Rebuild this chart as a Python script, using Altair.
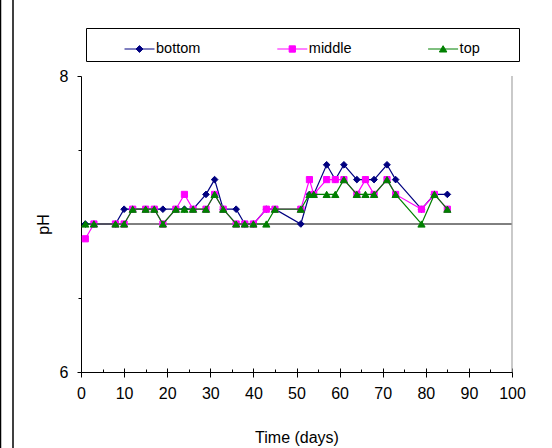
import altair as alt
import pandas as pd

# ---- data ----
days = [1, 3, 8, 10, 12, 15, 17, 19, 22, 24, 26, 29, 31, 33, 36, 38, 40, 43, 45,
        51, 53, 54, 57, 59, 61, 64, 66, 68, 71, 73, 79, 82, 85]
bottom = [7.0, 7.0, 7.0, 7.1, 7.1, 7.1, 7.1, 7.1, 7.1, 7.1, 7.1, 7.2, 7.3, 7.1, 7.1, 7.0, 7.0, 7.1, 7.1,
          7.0, 7.2, 7.2, 7.4, 7.3, 7.4, 7.3, 7.3, 7.3, 7.4, 7.3, 7.1, 7.2, 7.2]
middle = [6.9, 7.0, 7.0, 7.0, 7.1, 7.1, 7.1, 7.0, 7.1, 7.2, 7.1, 7.1, 7.2, 7.1, 7.0, 7.0, 7.0, 7.1, 7.1,
          7.1, 7.3, 7.2, 7.3, 7.3, 7.3, 7.2, 7.3, 7.2, 7.3, 7.2, 7.1, 7.2, 7.1]
top = [7.0, 7.0, 7.0, 7.0, 7.1, 7.1, 7.1, 7.0, 7.1, 7.1, 7.1, 7.1, 7.2, 7.1, 7.0, 7.0, 7.0, 7.0, 7.1,
       7.1, 7.2, 7.2, 7.2, 7.2, 7.3, 7.2, 7.2, 7.2, 7.3, 7.2, 7.0, 7.2, 7.1]

series_names = ["bottom", "middle", "top"]
series_values = [bottom, middle, top]
series_colors = ["#000080", "#FF00FF", "#008000"]
series_shapes = ["diamond", "square", "triangle-up"]
series_sizes = [44, 38, 52]
legend_paths = [
    "M-1,0H1M-0.23,0L0,-0.23L0.23,0L0,0.23Z",
    "M-1,0H1M-0.21,-0.21H0.21V0.21H-0.21Z",
    "M-1,0H1M0,-0.22L0.25,0.2L-0.25,0.2Z",
]

x_major = [0, 10, 20, 30, 40, 50, 60, 70, 80, 90, 100]
x_minor = [5, 15, 25, 35, 45, 55, 65, 75, 85, 95]
y_major = [6, 7, 8]
y_minor = [6.5, 7.5]
ref_y = [7]
border_x = [100]

FONT = "Liberation Sans"

rows = []
for name, vals in zip(series_names, series_values):
    for d, v in zip(days, vals):
        rows.append({"day": d, "pH": v, "series": name})
df = pd.DataFrame(rows)

xscale = alt.Scale(domain=[0, 100], nice=False, zero=False)
yscale = alt.Scale(domain=[6, 8], nice=False, zero=False)

ref = alt.Chart(pd.DataFrame({"y": ref_y})).mark_rule(color="black", strokeWidth=1).encode(
    y=alt.Y("y:Q", scale=yscale, axis=None)
)
border = alt.Chart(pd.DataFrame({"x": border_x})).mark_rule(color="#a6a6a6", strokeWidth=1.2).encode(
    x=alt.X("x:Q", scale=xscale, axis=None)
)
# outer frame lines of the chart area (decoration)
frame1 = alt.Chart(pd.DataFrame({"a": [0]})).mark_rule(color="black", strokeWidth=1.5).encode(
    x=alt.value(-68), y=alt.value(-80), y2=alt.value(380)
)
frame2 = alt.Chart(pd.DataFrame({"a": [0]})).mark_rule(color="black", strokeWidth=1.5).encode(
    x=alt.value(-80.5), y=alt.value(-80), y2=alt.value(380)
)

axis_main_x = alt.Axis(orient="bottom", values=x_major, tickSize=5, labelPadding=8, labelFontSize=16,
                       labelFont=FONT, labelColor="black", title="Time (days)", titleFont=FONT,
                       titleFontSize=16, titleFontWeight="normal", titleColor="black",
                       titleBaseline="alphabetic", titleX=215.5, titleY=70, domainColor="black",
                       tickColor="black", grid=False, labelFlush=False, labelOverlap=False, format="d")
axis_cross_x = alt.Axis(orient="bottom", values=x_major, tickSize=4, offset=-4, labels=False,
                        domain=False, title=None, tickColor="black", grid=False)
axis_minor_x = alt.Axis(orient="bottom", values=x_minor, tickSize=3, offset=-3, labels=False,
                        domain=False, title=None, tickColor="black", grid=False)
axis_main_y = alt.Axis(orient="left", values=y_major, tickSize=4, labelPadding=9, labelFontSize=16,
                       labelFont=FONT, labelColor="black", title="pH", titleFont=FONT, titleFontSize=16,
                       titleFontWeight="normal", titleColor="black", titleBaseline="alphabetic",
                       titleX=-33, titleY=148, titleAngle=270, domainColor="black", tickColor="black",
                       grid=False, labelFlush=False, labelOverlap=False, format="d")
axis_minor_y = alt.Axis(orient="left", values=y_minor, tickSize=3, labels=False, domain=False,
                        title=None, tickColor="black", grid=False)

x_axes = [axis_main_x, axis_cross_x, axis_minor_x, None, None, None]
y_axes = [axis_main_y, axis_minor_y, None, None, None, None]

layers = [frame1, frame2, ref, border]
k = 0
for name, color, shape, size in zip(series_names, series_colors, series_shapes, series_sizes):
    sub = alt.Chart(df).transform_filter(alt.datum.series == name)
    line = sub.mark_line(color=color, strokeWidth=1.2).encode(
        x=alt.X("day:Q", scale=xscale, axis=x_axes[k]),
        y=alt.Y("pH:Q", scale=yscale, axis=y_axes[k]),
    )
    k += 1
    pts = sub.mark_point(shape=shape, size=size, filled=True, fill=color, stroke=color,
                         strokeWidth=1, opacity=1).encode(
        x=alt.X("day:Q", scale=xscale, axis=x_axes[k]),
        y=alt.Y("pH:Q", scale=yscale, axis=y_axes[k]),
    )
    k += 1
    layers += [line, pts]

PAD = "\u2800" * 3
leg = alt.Legend(orient="none", legendX=5, legendY=-48, direction="horizontal", columns=3,
                 gridAlign="each", columnPadding=73.8, symbolSize=900, symbolStrokeWidth=1,
                 labelFont=FONT, labelFontSize=14.5, labelColor="black", labelOffset=1,
                 labelExpr="datum.label == 'top' ? 'top' + '" + PAD + "' : datum.label",
                 padding=5.5, strokeColor="black", fillColor="white", title=" ",
                 titleOrient="left", titlePadding=32.5, titleFontSize=1)

dummy = alt.Chart(df).transform_filter(alt.datum.day < 0).mark_point(filled=True, opacity=1).encode(
    x=alt.X("day:Q", scale=xscale, axis=None),
    y=alt.Y("pH:Q", scale=yscale, axis=None),
    fill=alt.Fill("series:N", scale=alt.Scale(domain=series_names, range=series_colors), legend=leg),
    stroke=alt.Stroke("series:N", scale=alt.Scale(domain=series_names, range=series_colors), legend=leg),
    shape=alt.Shape("series:N", scale=alt.Scale(domain=series_names, range=legend_paths), legend=leg),
)
layers.append(dummy)

chart = alt.layer(*layers).resolve_axis(x="independent", y="independent").properties(
    width=431, height=296,
    padding={"left": 81, "top": 76, "right": 40, "bottom": 76},
    autosize=alt.AutoSizeParams(type="none"),
    background="white",
).configure_view(stroke=None)

chart.save("out.html", embed_options={"renderer": "svg", "actions": False})
